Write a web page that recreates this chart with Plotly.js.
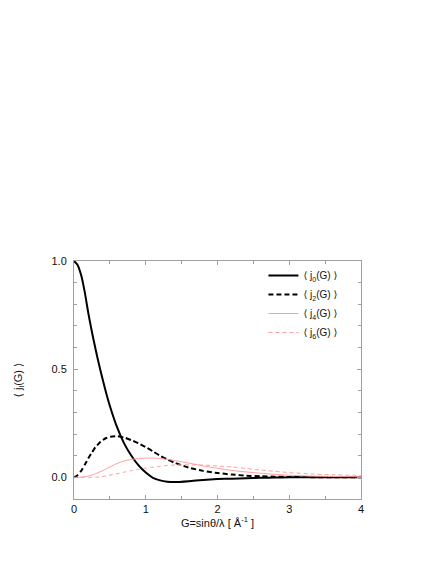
<!DOCTYPE html>
<html>
<head>
<meta charset="utf-8">
<script src="https://cdn.plot.ly/plotly-3.0.1.min.js"></script>
<style>
    html, body { margin: 0; padding: 0; background: #fff; }
    #chart { width: 436px; height: 564px; }
</style>
</head>
<body>
<div id="chart"></div>
<script>
// Scattering vector G = sin(theta)/lambda, in 1/Angstrom
const G = [0, 0.05, 0.1, 0.15, 0.2, 0.25, 0.3, 0.35, 0.4, 0.45, 0.5, 0.6, 0.7, 0.8, 0.9,
    1.0, 1.1, 1.2, 1.3, 1.4, 1.6, 1.8, 2.0, 2.2, 2.4, 2.6, 2.8, 3.0, 3.3, 3.6, 4.0];

// <j_l(G)> radial integrals
const j0 = [1.0, 0.982, 0.934, 0.856, 0.758, 0.672, 0.593, 0.52, 0.452, 0.388, 0.33, 0.232, 0.156, 0.1, 0.055,
    0.022, -0.002, -0.014, -0.02, -0.022, -0.018, -0.012, -0.008, -0.006, -0.004, -0.002, -0.001, 0, 0, 0, 0];
const j2 = [0, 0.01, 0.03, 0.058, 0.088, 0.115, 0.14, 0.158, 0.172, 0.182, 0.188, 0.19, 0.184, 0.172, 0.157,
    0.14, 0.12, 0.1, 0.083, 0.068, 0.045, 0.03, 0.02, 0.013, 0.008, 0.005, 0.003, 0.002, 0.001, 0, 0];
const j4 = [0, 0, 0.001, 0.003, 0.006, 0.011, 0.017, 0.024, 0.031, 0.04, 0.048, 0.064, 0.076, 0.083, 0.087,
    0.089, 0.089, 0.087, 0.083, 0.078, 0.066, 0.053, 0.042, 0.032, 0.025, 0.019, 0.014, 0.01, 0.006, 0.004, 0.003];
const j6 = [0, 0, 0, 0, 0, 0, 0.001, 0.002, 0.004, 0.007, 0.01, 0.017, 0.024, 0.031, 0.037,
    0.043, 0.047, 0.051, 0.055, 0.057, 0.058, 0.057, 0.053, 0.048, 0.041, 0.034, 0.028, 0.022, 0.016, 0.012, 0.009];

const seriesNames = ['⟨ j<sub>0</sub>(G) ⟩', '⟨ j<sub>2</sub>(G) ⟩', '⟨ j<sub>4</sub>(G) ⟩', '⟨ j<sub>6</sub>(G) ⟩'];
const xTicks = [0, 1, 2, 3, 4];
const yTicks = [0.0, 0.5, 1.0];

const PINK = '#ff9e9e';

const traces = [
    { y: j0, name: seriesNames[0], line: { color: '#000', width: 2 } },
    { y: j2, name: seriesNames[1], line: { color: '#000', width: 2, dash: '5px,3px' } },
    { y: j4, name: seriesNames[2], line: { color: PINK, width: 1 } },
    { y: j6, name: seriesNames[3], line: { color: PINK, width: 1, dash: '4px,3px' } },
].map(t => Object.assign({ x: G, type: 'scatter', mode: 'lines' }, t));
traces.forEach(t => { t.line.shape = 'spline'; t.line.smoothing = 0.6; });

const axisCommon = {
    showline: true,
    mirror: 'ticks',
    linecolor: '#a0a0a0',
    linewidth: 1,
    ticks: 'inside',
    ticklen: 4,
    tickcolor: '#a0a0a0',
    showgrid: false,
    zeroline: false,
    tickfont: { size: 11, color: '#111' },
    minor: { ticks: 'inside', ticklen: 3, tickcolor: '#a0a0a0', showgrid: false },
};

const layout = {
    width: 436,
    height: 564,
    margin: { l: 74, r: 75, t: 261, b: 65 },
    paper_bgcolor: '#fff',
    plot_bgcolor: '#fff',
    font: { family: "'Liberation Sans', Arial, 'DejaVu Sans', sans-serif", color: '#111', size: 11 },
    showlegend: true,
    legend: {
        x: 0.66,
        y: 1.0,
        xanchor: 'left',
        yanchor: 'top',
        bgcolor: 'rgba(0,0,0,0)',
        font: { size: 10 },
        itemwidth: 30,
        tracegroupgap: 0,
    },
    xaxis: Object.assign({}, axisCommon, {
        range: [0, 4],
        tickvals: xTicks,
        ticktext: xTicks.map(String),
        minor: Object.assign({}, axisCommon.minor, { dtick: 0.5 }),
        title: { text: 'G=sinθ/λ [ Å<sup>-1</sup> ]', font: { size: 11 }, standoff: 4 },
    }),
    yaxis: Object.assign({}, axisCommon, {
        range: [-0.1, 1.0],
        tickvals: yTicks,
        ticktext: yTicks.map(v => v.toFixed(1)),
        ticklabelstandoff: 4,
        minor: Object.assign({}, axisCommon.minor, { dtick: 0.1 }),
        title: { text: '⟨ j<sub>l</sub>(G) ⟩', font: { size: 11 }, standoff: 26 },
    }),
};

Plotly.newPlot('chart', traces, layout, { displayModeBar: false, staticPlot: true });
</script>
</body>
</html>
